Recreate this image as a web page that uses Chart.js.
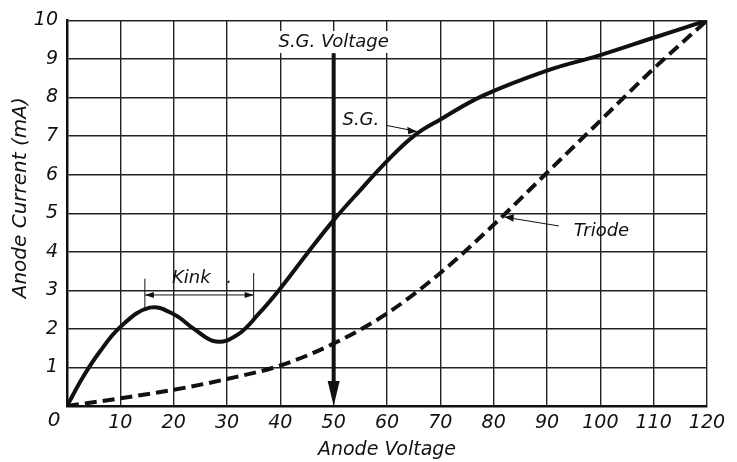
<!DOCTYPE html>
<html><head><meta charset="utf-8">
<script src="https://cdn.jsdelivr.net/npm/chart.js@4.4.1/dist/chart.umd.min.js"></script>
<style>html,body{margin:0;padding:0;background:#fff}#wrap{width:737px;height:462px}</style>
</head><body><div id="wrap"><canvas id="c" width="737" height="462"></canvas></div>
<script>
const sgVoltage = [0, 3, 6, 10, 15.5, 20, 24, 28, 32, 36, 40, 45, 50, 55, 60, 65, 70, 78, 90, 100, 110, 120];
const sgCurrent = [0, 0.75, 1.38, 2.05, 2.55, 2.38, 1.98, 1.67, 1.85, 2.4, 3.05, 3.95, 4.82, 5.6, 6.35, 7.0, 7.43, 8.05, 8.7, 9.1, 9.55, 10];
const triodeVoltage = [0, 10, 20, 30, 40, 50, 60, 70, 80, 90, 100, 110, 120];
const triodeCurrent = [0, 0.2, 0.42, 0.7, 1.05, 1.62, 2.4, 3.45, 4.7, 6.05, 7.4, 8.75, 10];
const xTickValues = [0, 10, 20, 30, 40, 50, 60, 70, 80, 90, 100, 110, 120];
const yTickValues = [0, 1, 2, 3, 4, 5, 6, 7, 8, 9, 10];
const xTitle = 'Anode Voltage';
const yTitle = 'Anode Current (mA)';
const arrowLabel = 'S.G. Voltage';
const arrowAt = 50;

const FONT = '"DejaVu Sans", sans-serif';
const INK = '#111';

const annot = {
  id: 'annot',
  afterDraw(chart) {
    const {ctx, scales: {x, y}} = chart;
    const X = v => x.getPixelForValue(v), Y = v => y.getPixelForValue(v);
    ctx.save();
    ctx.fillStyle = INK; ctx.strokeStyle = INK;
    ctx.textAlign = 'center'; ctx.textBaseline = 'middle';
    // y axis title
    ctx.save();
    ctx.translate(21, Y(5.4));
    ctx.rotate(-Math.PI / 2);
    ctx.font = 'italic 20px ' + FONT;
    ctx.fillText(yTitle, 0, 0);
    ctx.restore();
    // origin "0"
    ctx.font = 'italic 20px ' + FONT;
    ctx.fillText('0', X(0) - 13, Y(0) + 15);
    // S.G. Voltage arrow
    ctx.lineWidth = 4;
    ctx.beginPath(); ctx.moveTo(X(arrowAt), Y(9.15)); ctx.lineTo(X(arrowAt), Y(0.6)); ctx.stroke();
    ctx.beginPath();
    ctx.moveTo(X(arrowAt) - 6, Y(0.65)); ctx.lineTo(X(arrowAt) + 6, Y(0.65)); ctx.lineTo(X(arrowAt), Y(0)); ctx.closePath(); ctx.fill();
    ctx.font = 'italic 18px ' + FONT;
    const tw = ctx.measureText(arrowLabel).width;
    ctx.fillStyle = '#fff';
    ctx.fillRect(X(arrowAt) - tw / 2 - 3, Y(9.44) - 11, tw + 6, 22);
    ctx.fillStyle = INK;
    ctx.fillText(arrowLabel, X(arrowAt), Y(9.44));
    // S.G. label
    ctx.font = 'italic 18px ' + FONT;
    ctx.fillText('S.G.', X(55.1), Y(7.42));
    ctx.lineWidth = 1;
    ctx.beginPath(); ctx.moveTo(X(59.8), Y(7.28)); ctx.lineTo(X(65.6), Y(7.12)); ctx.stroke();
    ctx.beginPath(); ctx.moveTo(X(65.6), Y(7.12)); ctx.lineTo(X(63.8), Y(7.24)); ctx.lineTo(X(64), Y(7.05)); ctx.closePath(); ctx.fill();
    // Kink
    ctx.font = 'italic 18px ' + FONT;
    ctx.fillText('Kink', X(23.3), Y(3.32));
    ctx.fillText('.', X(30.4), Y(3.3));
    ctx.lineWidth = 1;
    ctx.beginPath();
    ctx.moveTo(X(14.6), Y(3.3)); ctx.lineTo(X(14.6), Y(2.55));
    ctx.moveTo(X(35), Y(3.45)); ctx.lineTo(X(35), Y(2.17));
    ctx.moveTo(X(14.6), Y(2.88)); ctx.lineTo(X(35), Y(2.88));
    ctx.stroke();
    const ay = Y(2.88);
    ctx.beginPath(); ctx.moveTo(X(14.6), ay); ctx.lineTo(X(14.6) + 9, ay - 3); ctx.lineTo(X(14.6) + 9, ay + 3); ctx.closePath(); ctx.fill();
    ctx.beginPath(); ctx.moveTo(X(35), ay); ctx.lineTo(X(35) - 9, ay - 3); ctx.lineTo(X(35) - 9, ay + 3); ctx.closePath(); ctx.fill();
    // Triode label
    ctx.font = 'italic 18px ' + FONT;
    ctx.fillText('Triode', X(100.2), Y(4.52));
    ctx.beginPath(); ctx.moveTo(X(92.2), Y(4.67)); ctx.lineTo(X(82), Y(4.9)); ctx.stroke();
    ctx.beginPath(); ctx.moveTo(X(82), Y(4.9)); ctx.lineTo(X(83.8), Y(4.97)); ctx.lineTo(X(83.7), Y(4.78)); ctx.closePath(); ctx.fill();
    ctx.restore();
  }
};

new Chart(document.getElementById('c'), {
  type: 'line',
  data: {
    datasets: [
      { label: 'S.G.', data: sgVoltage.map((v, i) => ({x: v, y: sgCurrent[i]})),
        borderColor: INK, borderWidth: 4, pointRadius: 0, tension: 0.4, fill: false },
      { label: 'Triode', data: triodeVoltage.map((v, i) => ({x: v, y: triodeCurrent[i]})),
        borderColor: INK, borderWidth: 4, borderDash: [12, 6], pointRadius: 0, cubicInterpolationMode: 'monotone', fill: false }
    ]
  },
  options: {
    responsive: false, animation: false,
    layout: { padding: { top: 10, right: 30, left: 0, bottom: 0 } },
    plugins: { legend: { display: false }, tooltip: { enabled: false } },
    scales: {
      x: {
        type: 'linear', min: 0, max: 120,
        afterBuildTicks: s => { s.ticks = xTickValues.map(v => ({value: v})); },
        afterFit: s => { s.height = 56; },
        grid: { color: '#222', lineWidth: 1.4, drawTicks: false },
        border: { color: INK, width: 2.5 },
        ticks: { color: INK, padding: 6, maxRotation: 0, autoSkip: false,
          font: { family: FONT, size: 19, style: 'italic' },
          callback: v => v === 0 ? '' : String(v) },
        title: { display: true, text: xTitle, color: INK, padding: { top: 0, bottom: 1 },
          font: { family: FONT, size: 19, style: 'italic' } }
      },
      y: {
        type: 'linear', min: 0, max: 10,
        afterBuildTicks: s => { s.ticks = yTickValues.map(v => ({value: v})); },
        afterFit: s => { s.width = 67; },
        grid: { color: '#222', lineWidth: 1.4, drawTicks: false },
        border: { color: INK, width: 2.5 },
        ticks: { color: INK, padding: 9, autoSkip: false,
          font: { family: FONT, size: 19, style: 'italic' },
          callback: v => v === 0 ? '' : String(v) },
        title: { display: false, text: yTitle }
      }
    }
  },
  plugins: [annot]
});
</script>
</body></html>
